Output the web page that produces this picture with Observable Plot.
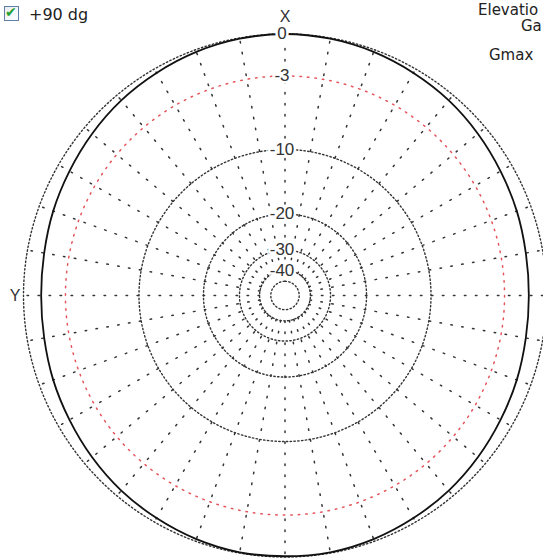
<!DOCTYPE html>
<html>
<head>
<meta charset="utf-8">
<script src="https://cdn.jsdelivr.net/npm/d3@7"></script>
<script src="https://cdn.jsdelivr.net/npm/@observablehq/plot@0.6"></script>
<style>
  html, body { margin: 0; padding: 0; background: #fff; overflow: hidden; }
  #wrap { position: relative; width: 543px; height: 558px; overflow: hidden; }
  #chart svg { display: block; }
  .ov { position: absolute; font-family: "DejaVu Sans", sans-serif; font-size: 16px; color: #222; white-space: nowrap; line-height: 1.2; }
  .sm { font-size: 15px; }
  #cb { position: absolute; left: 4px; top: 6px; width: 13px; height: 13px; border: 1px solid #5f7fa8;
        background: linear-gradient(135deg, #e8ecf0, #ffffff); }
  #cb span { position: absolute; left: 0px; top: -2px; font-size: 14px; line-height: 1; color: #22a030; font-family: "DejaVu Sans"; font-weight: bold; }
</style>
</head>
<body>
<div id="wrap">
  <div id="chart"></div>
  <div id="cb"><span>✔</span></div>
  <div class="ov" style="left:29px; top:5px;">+90 dg</div>
  <div class="ov sm" style="left:478px; top:1px;">Elevatio</div>
  <div class="ov sm" style="left:521px; top:17px;">Ga</div>
  <div class="ov sm" style="left:489px; top:46px;">Gmax</div>
</div>
<script>
// Pattern data: azimuth of the plot (degrees, clockwise from X at top) and gain in dB
const angles = [0,10,20,30,40,50,60,70,80,90,100,110,120,130,140,150,160,170,
                180,190,200,210,220,230,240,250,260,270,280,290,300,310,320,330,340,350];
const gainDb = [0,-0.05,-0.15,-0.3,-0.45,-0.65,-0.85,-1.0,-1.15,-1.2,-1.15,-1.0,-0.85,-0.65,-0.45,-0.3,-0.15,-0.05,
                -0.05,-0.05,-0.15,-0.3,-0.45,-0.65,-0.85,-1.0,-1.15,-1.2,-1.15,-1.0,-0.85,-0.65,-0.45,-0.3,-0.15,-0.05];

// Grid
const gridLevels = [0,-10,-20,-30,-40,-50];
const redLevel = [-3];
const tickLevels = [0,-3,-10,-20,-30,-40];
const tickLabels = ["0","-3","-10","-20","-30","-40"];
const spokeAngles = d3.range(0, 360, 10);
const axisNames = [{name:"X", angle:0}, {name:"Y", angle:270}];

// ARRL log scale: radius shrinks by 0.89 per 2 dB
const rho = db => Math.pow(0.89, -db / 2);
const rad = a => a * Math.PI / 180;

// Layout constants (pixels)
const W = 543, H = 558, CX = 284.5, CY = 295, R = 261.5;

const circlePts = levels => levels.flatMap(l =>
  d3.range(0, 361, 1).map(a => ({level: l, x: rho(l) * Math.sin(rad(a)), y: rho(l) * Math.cos(rad(a))})));

const spokes = spokeAngles.flatMap(a => [rho(-40), 1].map(r =>
  ({a, x: r * Math.sin(rad(a)), y: r * Math.cos(rad(a))})));

const pattern = angles.map((a, i) => ({x: rho(gainDb[i]) * Math.sin(rad(a)), y: rho(gainDb[i]) * Math.cos(rad(a))}));

const ticks = tickLevels.map((l, i) => ({x: 0, y: rho(l), t: tickLabels[i]}));
const axisLbl = axisNames.map(d => ({t: d.name,
  x: (d.angle === 0 ? 0 : -1.032), y: (d.angle === 0 ? 1.067 : 0)}));

const chart = Plot.plot({
  width: W, height: H,
  marginTop: 0, marginRight: 0, marginBottom: 0, marginLeft: 0,
  x: {domain: [-CX / R, (W - CX) / R], axis: null},
  y: {domain: [-(H - CY) / R, CY / R], axis: null},
  style: {background: "white", overflow: "hidden"},
  marks: [
    Plot.line(spokes, {x: "x", y: "y", z: "a", stroke: "#333", strokeWidth: 1.5, strokeDasharray: "1.5 9.5"}),
    Plot.line(circlePts(gridLevels), {x: "x", y: "y", z: "level", stroke: "#333", strokeWidth: 1.4, strokeDasharray: "1.4 2.4"}),
    Plot.line(circlePts(redLevel), {x: "x", y: "y", z: "level", stroke: "#e4545a", strokeWidth: 1.5, strokeDasharray: "1.5 6"}),
    Plot.line(pattern, {x: "x", y: "y", curve: "catmull-rom-closed", stroke: "#111", strokeWidth: 1.8}),
    Plot.text(ticks, {x: "x", y: "y", text: "t", dx: -3, fontSize: 17, fontFamily: "Liberation Sans, Arial, sans-serif",
      fill: "#333", stroke: "white", strokeWidth: 5, paintOrder: "stroke", lineAnchor: "middle"}),
    Plot.text(axisLbl, {x: "x", y: "y", text: "t", fontSize: 16, fontFamily: "Liberation Sans, Arial, sans-serif",
      fill: "#333", lineAnchor: "middle"})
  ]
});
document.getElementById("chart").appendChild(chart);
</script>
</body>
</html>
